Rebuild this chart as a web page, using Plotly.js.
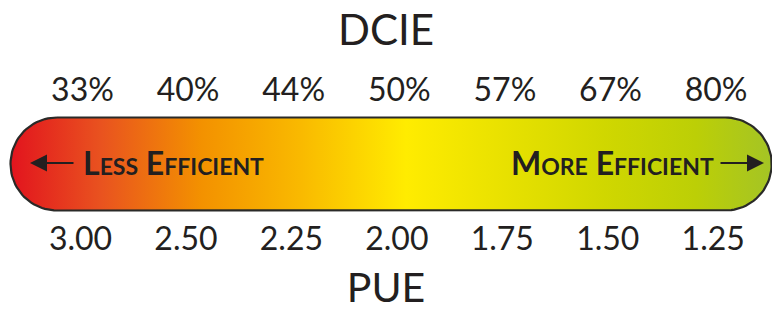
<!DOCTYPE html>
<html>
<head>
<meta charset="utf-8">
<script src="https://cdn.plot.ly/plotly-3.0.1.min.js"></script>
<style>html,body{margin:0;padding:0;background:#fff;}#chart{width:772px;height:311px;}</style>
</head>
<body>
<div id="chart"></div>
<script>
// ---- data ----
const pueValues  = [3.00, 2.50, 2.25, 2.00, 1.75, 1.50, 1.25];
const pueLabels  = ['3.00', '2.50', '2.25', '2.00', '1.75', '1.50', '1.25'];
const dcieValues = [33, 40, 44, 50, 57, 67, 80];
const dcieLabels = ['33%', '40%', '44%', '50%', '57%', '67%', '80%'];
const lessLabel = 'Less Efficient';
const moreLabel = 'More Efficient';
const axisTitleTop = 'DCIE';
const axisTitleBottom = 'PUE';

// ---- styling / layout constants ----
const W = 772, H = 311;
const M = {l: 0, r: 0, t: 112, b: 96};
const plotH = H - M.t - M.b;
const pxPerUnit = 105.45;          // pixels between adjacent scale steps
const firstTickPx = 80.5;          // bottom axis
const firstTickPxTop = 82.5;       // top axis
const pxPerUnitTop = 105.6;
const ink = '#231f20';
const gradient = [
  [0.00, '#e2141e'], [0.12, '#e9531f'], [0.25, '#f39100'], [0.38, '#f9b900'],
  [0.52, '#ffec00'], [0.65, '#e8e100'], [0.78, '#d0d700'], [0.90, '#bccf06'], [1.00, '#a4c425']
];

const idx = pueValues.map((_, i) => i);
const xRange  = [-firstTickPx / pxPerUnit, (W - firstTickPx) / pxPerUnit];
const x2Range = [-firstTickPxTop / pxPerUnitTop, (W - firstTickPxTop) / pxPerUnitTop];

// capsule outline (scale bar) spanning the scale plus end padding
const padLeftPx = 70, padRightPx = 58.5, radiusPx = 46.5, centerYpx = 164;
const rx = radiusPx / pxPerUnit, ry = radiusPx / plotH;
const yc = (H - M.b - centerYpx) / plotH;
const xl = -padLeftPx / pxPerUnit + rx;
const xr = (idx.length - 1) + padRightPx / pxPerUnit - rx;
const capX = [], capY = [];
const N = 48;
for (let k = 0; k <= N; k++) { const a = Math.PI / 2 + Math.PI * k / N; capX.push(xl + rx * Math.cos(a)); capY.push(yc + ry * Math.sin(a)); }
for (let k = 0; k <= N; k++) { const a = -Math.PI / 2 + Math.PI * k / N; capX.push(xr + rx * Math.cos(a)); capY.push(yc + ry * Math.sin(a)); }
capX.push(capX[0]); capY.push(capY[0]);

function smallCaps(s, small) {
  return s.split(' ').map(w => w[0].toUpperCase() +
    '<span style="font-size:' + small + 'px">' + w.slice(1).toUpperCase() + '</span>').join(' ');
}

const traces = [
  {
    type: 'scatter', mode: 'lines', x: capX, y: capY, xaxis: 'x', yaxis: 'y',
    fill: 'toself',
    fillgradient: {type: 'horizontal', colorscale: gradient},
    line: {color: '#2a2a28', width: 2.2},
    hoverinfo: 'skip', showlegend: false
  },
  {
    type: 'scatter', mode: 'markers', x: idx, y: pueValues.map(() => yc), xaxis: 'x2', yaxis: 'y',
    customdata: dcieValues, text: pueLabels,
    marker: {opacity: 0, size: 1},
    hovertemplate: 'PUE %{text}<br>DCIE %{customdata}%<extra></extra>', showlegend: false
  }
];

const yPaper = py => (H - M.b - py) / plotH;
const arrowStyle = {showarrow: true, arrowhead: 2, arrowsize: 1.7, arrowwidth: 2, arrowcolor: ink, text: '', xref: 'paper', yref: 'paper', ayref: 'pixel'};

const layout = {
  width: W, height: H,
  margin: M,
  paper_bgcolor: '#ffffff', plot_bgcolor: 'rgba(0,0,0,0)',
  font: {family: 'Lato, "Open Sans", sans-serif', color: ink},
  showlegend: false,
  xaxis: {
    range: xRange, tickmode: 'array', tickvals: idx, ticktext: pueLabels,
    showgrid: false, zeroline: false, showline: false, ticks: '',
    tickfont: {size: 32, color: ink, family: 'Lato'},
    ticklabelstandoff: 2,
    title: {text: axisTitleBottom, font: {size: 41, color: ink, family: 'Lato'}},
    fixedrange: true
  },
  xaxis2: {
    overlaying: 'x', side: 'top', anchor: 'y',
    range: x2Range, tickmode: 'array', tickvals: idx, ticktext: dcieLabels,
    showgrid: false, zeroline: false, showline: false, ticks: '',
    tickfont: {size: 32, color: ink, family: 'Lato'},
    ticklabelstandoff: 4,
    title: {text: axisTitleTop, font: {size: 42, color: ink, family: 'Lato'}},
    fixedrange: true
  },
  yaxis: {range: [0, 1], visible: false, fixedrange: true},
  annotations: [
    Object.assign({}, arrowStyle, {x: 30 / W, y: yPaper(163), ax: 45, ay: 0}),
    Object.assign({}, arrowStyle, {x: 764 / W, y: yPaper(163), ax: -45, ay: 0}),
    {text: smallCaps(lessLabel, 23), showarrow: false, xref: 'paper', yref: 'paper',
     x: 173.5 / W, y: yPaper(162), xanchor: 'center', yanchor: 'middle',
     font: {size: 32, color: ink, family: 'Lato', weight: 'bold'}},
    {text: smallCaps(moreLabel, 23), showarrow: false, xref: 'paper', yref: 'paper',
     x: 612 / W, y: yPaper(162), xanchor: 'center', yanchor: 'middle',
     font: {size: 32, color: ink, family: 'Lato', weight: 'bold'}}
  ]
};

Plotly.newPlot('chart', traces, layout, {displayModeBar: false, staticPlot: true}).then(gd => {
  // nudge the top axis title to the reference position
  const t = gd.querySelector('.x2title');
  if (t) t.setAttribute('transform', 'translate(0,4)');
});
</script>
</body>
</html>
